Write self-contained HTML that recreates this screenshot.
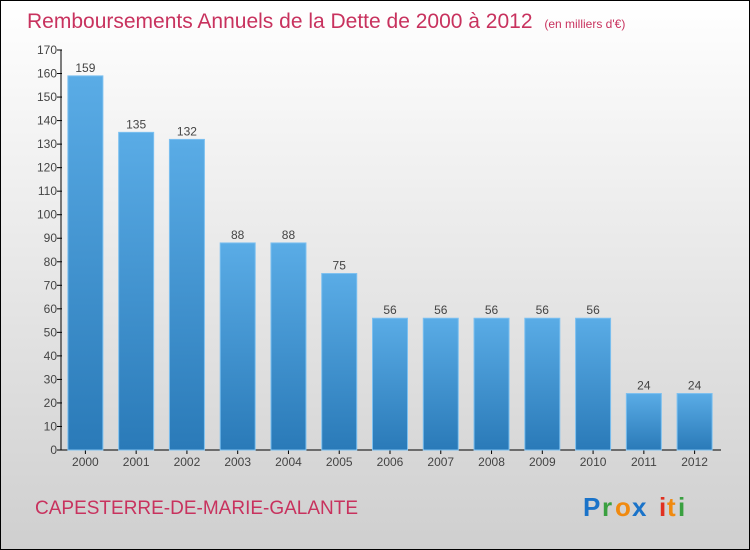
<!DOCTYPE html>
<html><head><meta charset="utf-8"><style>
html,body{margin:0;padding:0}
body{width:750px;height:550px;overflow:hidden;font-family:"Liberation Sans",sans-serif}
#frame{position:absolute;left:0;top:0;width:748px;height:548px;border:1px solid #000;background:linear-gradient(#ffffff,#cfcfcf)}
</style></head><body>
<div id="frame">
<svg width="750" height="550" style="position:absolute;left:-1px;top:-1px" id="chart">
<defs><linearGradient id="bg" x1="0" y1="0" x2="0" y2="1"><stop offset="0" stop-color="#5aace6"/><stop offset="1" stop-color="#2a7ab8"/></linearGradient></defs>
<text x="27" y="28" font-size="21" fill="#c8325e">Remboursements Annuels de la Dette de 2000 à 2012 <tspan font-size="12" dx="6">(en milliers d'€)</tspan></text>
<g id="axes"></g><g id="bars"></g>
<text x="35" y="514" font-size="19" fill="#c8325e">CAPESTERRE-DE-MARIE-GALANTE</text>
<g font-size="26" font-weight="bold">
<text x="583" y="516" fill="#1a73c9">P</text><text x="602" y="516" fill="#3aa040">r</text><text x="615" y="516" fill="#f08a10">o</text><text x="632" y="516" fill="#1a73c9">x</text><text x="659" y="516" fill="#e03020">i</text><text x="667" y="516" fill="#f08a10">t</text><text x="678" y="516" fill="#3aa040">i</text>
</g>
</svg>
</div>
<script>
const categories=["2000","2001","2002","2003","2004","2005","2006","2007","2008","2009","2010","2011","2012"];
const values=[159,135,132,88,88,75,56,56,56,56,56,24,24];
const tickValues=[0,10,20,30,40,50,60,70,80,90,100,110,120,130,140,150,160,170];
const NS="http://www.w3.org/2000/svg";
const y0=450,yTop=50,yMax=170,xL=61,xR=721;
const y=v=>y0-(v/yMax)*(y0-yTop);
const step=(xR-xL)/categories.length;
const xc=i=>xL+step*(i+0.5)-1;
function mk(t,a,p){const e=document.createElementNS(NS,t);for(const k in a)e.setAttribute(k,a[k]);p.appendChild(e);return e;}
const ax=document.getElementById('axes'),bs=document.getElementById('bars');
let l=mk('line',{x1:xL,y1:yTop,x2:xL,y2:y0,stroke:'#000'},ax);


l=mk('line',{x1:xL,y1:y0,x2:xR,y2:y0,stroke:'#000'},ax);


tickValues.forEach(v=>{
 mk('line',{x1:xL-4,y1:y(v),x2:xL+1,y2:y(v),stroke:'#000'},ax);
 const t=mk('text',{x:xL-4,y:y(v)+4,'text-anchor':'end','font-size':12,fill:'#444'},ax);
 t.textContent=v;
 
 
});
categories.forEach((c,i)=>{
 const v=values[i];
 const r=mk('rect',{x:xc(i)-17.5,y:y(v),width:35,height:y0-y(v),fill:'url(#bg)',stroke:'#7cc0f0','stroke-width':1},bs);
 
 
 const lb=mk('text',{x:xc(i),y:y(v)-4,'text-anchor':'middle','font-size':12,fill:'#444'},bs);
 lb.textContent=v;
 
 
 const tl=mk('text',{x:xc(i),y:466,'text-anchor':'middle','font-size':12,fill:'#444'},ax);
 tl.textContent=c;
 
 
 mk('line',{x1:xc(i),y1:y0,x2:xc(i),y2:y0+4,stroke:'#000'},ax);
});
</script>
</body></html>
